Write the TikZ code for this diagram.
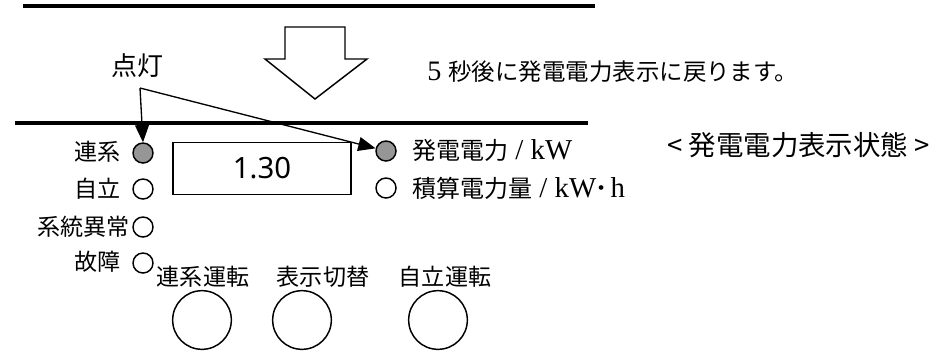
\documentclass[tikz,border=0pt]{standalone}
\usepackage{fontspec}
\setmainfont{Noto Sans CJK JP}
\newfontfamily\serifrm[Scale=1.2]{Liberation Serif}
\newfontfamily\numfont{Noto Sans}
\usetikzlibrary{arrows.meta}
\definecolor{lampgray}{RGB}{150,150,150}
\begin{document}
\begin{tikzpicture}[x=0.75pt,y=-0.75pt,
  lbl/.style={inner sep=0pt,font=\fontsize{17.3pt}{20pt}\selectfont},
  rlbl/.style={inner sep=0pt,font=\fontsize{18pt}{21pt}\selectfont},
  biglbl/.style={inner sep=0pt,font=\fontsize{19.5pt}{22pt}\selectfont},
  lamp/.style={circle,draw,line width=1.1pt,minimum size=15pt,inner sep=0pt},
  onlamp/.style={lamp,fill=lampgray},
  button/.style={circle,draw,line width=1.1pt,minimum size=44pt,inner sep=0pt},
  rule/.style={line width=2.6pt},
  pointer/.style={line width=1pt,-{Triangle[length=13pt,width=10.5pt]}}]
\useasboundingbox (0,0) rectangle (938,358);
% rules
\coordinate (r1a) at (23,6); \coordinate (r1b) at (595,6);
\coordinate (r2a) at (15,123); \coordinate (r2b) at (588,123);
\draw[rule] (r1a) -- (r1b);
\draw[rule] (r2a) -- (r2b);
% big hollow arrow
\draw[line width=1.1pt,line join=miter] (285,27) -- (345,27) -- (345,59) -- (367,59) -- (315,99) -- (265,59) -- (285,59) -- cycle;
% texts top
\node[biglbl] (tento) at (137,66) {点灯};
\node[lbl,anchor=west,font=\fontsize{17.6pt}{20pt}\selectfont] (msg) at (427,72) {{\serifrm 5 }秒後に発電電力表示に戻ります。};
\node[biglbl,anchor=west,font=\fontsize{20.6pt}{23pt}\selectfont] (state) at (667,145) {< 発電電力表示状態 >};
% left lamps
\node[onlamp] (l1) at (143,153) {};
\node[lamp] (l2) at (143,189) {};
\node[lamp] (l3) at (143,227) {};
\node[lamp] (l4) at (143,263) {};
\node[lbl,anchor=east] (t1) at (121,152) {連系};
\node[lbl,anchor=east] (t2) at (121,189) {自立};
\node[lbl,anchor=east] (t3) at (130,227) {系統異常};
\node[lbl,anchor=east] (t4) at (121,262) {故障};
% display
\node[draw,line width=1.1pt,minimum width=133.5pt,minimum height=39pt,inner sep=0pt,
      font=\numfont\fontsize{22pt}{24pt}\selectfont] (disp) at (262,168.5) {1.30};
% right lamps
\node[onlamp] (r1) at (386,151) {};
\node[lamp] (r2) at (386,188) {};
\node[rlbl,anchor=west] (rt1) at (412,150) {発電電力{\serifrm\ / kW}};
\node[rlbl,anchor=west] (rt2) at (412,188) {積算電力量{\serifrm\ / kW{\bfseries\textperiodcentered}\,h}};
% pointers
\coordinate (pt) at (140,88);
\draw[pointer] (pt) -- (l1.north);
\draw[pointer] (pt) -- (r1);
% buttons
\node[lbl] (b1t) at (203,277) {連系運転};
\node[lbl] (b2t) at (323,277) {表示切替};
\node[lbl] (b3t) at (445,277) {自立運転};
\node[button] (b1) at (202,320) {};
\node[button] (b2) at (302,320) {};
\node[button] (b3) at (438,320) {};
\end{tikzpicture}
\end{document}
